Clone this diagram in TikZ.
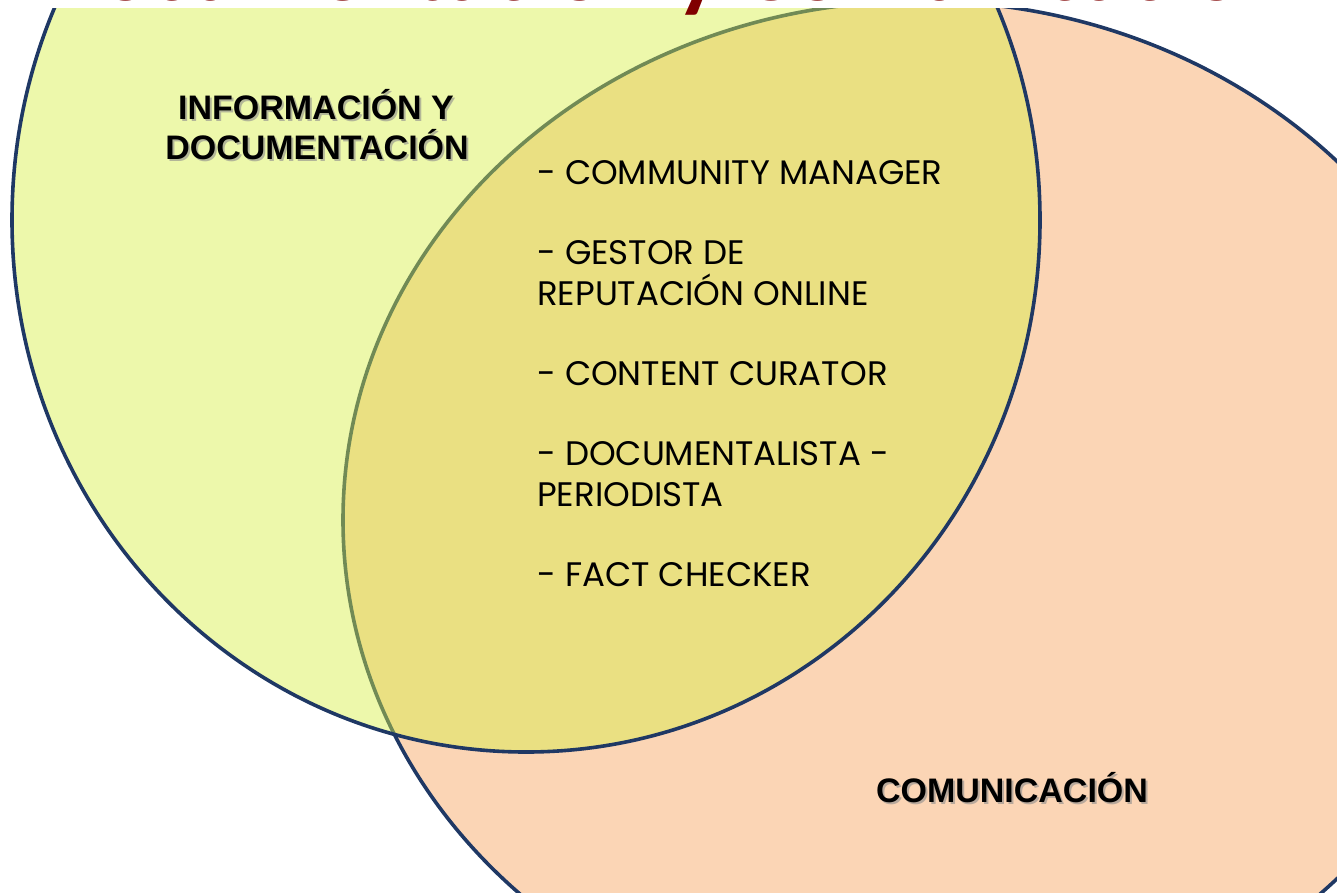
\documentclass[tikz,border=0pt]{standalone}
\usepackage{fontspec}
\setmainfont{Poppins}
\newfontfamily\rotulofont{Liberation Sans}
\newfontfamily\titulofont{Carlito}
\definecolor{borde}{RGB}{31,56,100}
\definecolor{naranja}{RGB}{251,213,181}
\definecolor{amarillo}{RGB}{215,239,68}
\definecolor{granate}{RGB}{128,0,0}
\tikzset{
  rotulo/.style={font=\rotulofont\bfseries\fontsize{34}{40}\selectfont, anchor=base, inner sep=0pt},
  sombra/.style={rotulo, text=black!45, opacity=0.6},
  perfil/.style={font=\fontsize{34}{40}\selectfont, anchor=base west, inner sep=0pt}
}
\begin{document}
\begin{tikzpicture}
[x=1pt,y=-1pt]
\useasboundingbox (0,0) rectangle (1337,892);
\clip (0,0) rectangle (1337,892);
% conjuntos
\filldraw [fill=naranja, draw=borde, line width=3.6pt] (920,520) ellipse (577 and 519);
\fill [amarillo, fill opacity=0.45] (526,220) ellipse (514 and 532);
\draw [borde, line width=3.6pt] (526,220) ellipse (514 and 532);
% titulo cortado
\fill [white] (0,0) rectangle (1337,8);
\node [font=\titulofont\bfseries\fontsize{94}{100}\selectfont, text=granate, anchor=base east, inner sep=0pt] (titulo) at (1292,0) {Documentación y Comunicación};
% nombres de los conjuntos
\node [sombra] (info-s) at (318,121) {INFORMACIÓN Y};
\node [sombra] (docu-s) at (319,161) {DOCUMENTACIÓN};
\node [rotulo] (info) at (316,119) {INFORMACIÓN Y};
\node [rotulo] (docu) at (317,159) {DOCUMENTACIÓN};
\node [sombra] (comu-s) at (1014,804) {COMUNICACIÓN};
\node [rotulo] (comu) at (1012,802) {COMUNICACIÓN};
% perfiles en la interseccion
\node [perfil] (p1) at (537,184) {- COMMUNITY MANAGER};
\node [perfil] (p2) at (537,264) {- GESTOR DE};
\node [perfil] (p2b) at (537,305) {REPUTACIÓN ONLINE};
\node [perfil] (p3) at (537,385) {- CONTENT CURATOR};
\node [perfil] (p4) at (537,465) {- DOCUMENTALISTA -};
\node [perfil] (p4b) at (537,506) {PERIODISTA};
\node [perfil] (p5) at (537,586) {- FACT CHECKER};
\end{tikzpicture}
\end{document}
